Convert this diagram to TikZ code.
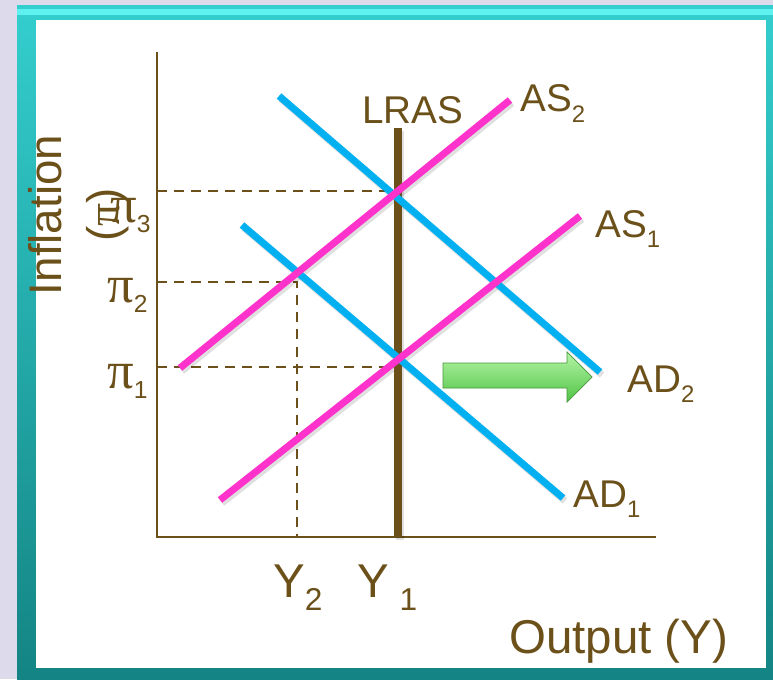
\documentclass[tikz,border=0pt]{standalone}
\usepackage{fontspec}
\setmainfont{Liberation Sans}
\newfontfamily\pifont{Liberation Serif}
\usepackage{tikz}
\usetikzlibrary{arrows.meta, positioning, calc}
\definecolor{econbrown}{RGB}{107, 80, 26}
\definecolor{econpink}{RGB}{255, 51, 204}
\definecolor{econblue}{RGB}{0, 176, 240}
\definecolor{econlavender}{RGB}{221, 218, 236}
\definecolor{econtealtop}{RGB}{52, 206, 206}
\definecolor{econtealbot}{RGB}{20, 132, 132}
\definecolor{econcyan}{RGB}{95, 240, 240}
\definecolor{econgreentop}{RGB}{180, 245, 165}
\definecolor{econgreenbot}{RGB}{80, 195, 70}
\definecolor{econgreenline}{RGB}{70, 150, 60}

% subscripts: curve labels, Y labels, pi labels
\newcommand{\csub}[1]{\raisebox{-5.7pt}{\fontsize{13.6}{15}\selectfont #1}}
\newcommand{\ysub}[1]{\raisebox{-7.4pt}{\fontsize{18}{20}\selectfont #1}}
\newcommand{\psub}[1]{\raisebox{-6.2pt}{\fontsize{14}{16}\selectfont #1}}

\begin{document}
\begin{tikzpicture}[
    x=0.02cm, y=-0.02cm,
    axis/.style={econbrown, line width=1.6pt},
    guide/.style={econbrown, line width=1.6pt, dash pattern=on 5.7pt off 4pt},
    curve/.style={line width=4pt, draw=#1},
    shadowline/.style={line width=4pt, draw=black, opacity=0.12},
    lbl/.style={econbrown, inner sep=0pt, anchor=base west, font=\fontsize{22}{26}\selectfont},
    biglbl/.style={econbrown, inner sep=0pt, anchor=base west, font=\fontsize{27}{33}\selectfont},
    pilbl/.style={econbrown, inner sep=0pt, anchor=base west, font=\fontsize{30}{36}\selectfont}
]
\useasboundingbox (0,0) rectangle (773,679);

% slide frame
\fill[econlavender] (0,0) rectangle (773,679);
\shade[top color=econtealtop, bottom color=econtealbot] (17,6) rectangle (773,679);
\fill[econcyan] (17,9) rectangle (773,15);
\fill[white] (36,20) rectangle (766,668);

% axes
\coordinate (O) at (157,537);
\coordinate (ytop) at (157,52);
\coordinate (xend) at (656,537);
\draw[axis] (ytop) -- (O) -- (xend);

% guide points
\coordinate (p3) at (157,191);
\coordinate (e3) at (398,191);
\coordinate (p2) at (157,282);
\coordinate (e2) at (297,282);
\coordinate (y2) at (297,537);
\coordinate (p1) at (157,367);
\coordinate (e1) at (398,367);

% dashed guides
\draw[guide] (p3) -- (e3);
\draw[guide] (p2) -- (e2) -- (y2);
\draw[guide] (p1) -- (e1);

% curve end points
\coordinate (lrasB) at (398,537);
\coordinate (lrasT) at (398,128);
\coordinate (as2A) at (180,368);
\coordinate (as2B) at (510,100);
\coordinate (as1A) at (220,500);
\coordinate (as1B) at (580,216);
\coordinate (ad2A) at (279,96);
\coordinate (ad2B) at (600,372);
\coordinate (ad1A) at (242,225);
\coordinate (ad1B) at (563,498);

% soft shadows
\foreach \a/\b in {lrasB/lrasT, ad2A/ad2B, ad1A/ad1B, as2A/as2B, as1A/as1B} {
    \draw[shadowline] ($(\a)+(2,3)$) -- ($(\b)+(2,3)$);
}

% LRAS, AD and AS curves
\draw[curve=econbrown] (lrasB) -- (lrasT);
\draw[curve=econblue] (ad2A) -- (ad2B);
\draw[curve=econblue] (ad1A) -- (ad1B);
\draw[curve=econpink] (as2A) -- (as2B);
\draw[curve=econpink] (as1A) -- (as1B);

% shift arrow
\shade[top color=econgreentop, bottom color=econgreenbot, draw=econgreenline, line width=0.4pt]
    (443,363) -- (567,363) -- (567,352) -- (592,377) -- (567,402) -- (567,388) -- (443,388) -- cycle;

% curve labels
\node[lbl] (lLRAS) at (362,123) {LRAS};
\node[lbl] (lAS2) at (520,112) {AS\csub{2}};
\node[lbl] (lAS1) at (595,237) {AS\csub{1}};
\node[lbl] (lAD2) at (627,392) {AD\csub{2}};
\node[lbl] (lAD1) at (573,507) {AD\csub{1}};

% axis labels
\node[pilbl] (lpi3) at (110,222) {{\pifont π}\psub{3}};
\node[pilbl] (lpi2) at (107,302) {{\pifont π}\psub{2}};
\node[pilbl] (lpi1) at (107,388) {{\pifont π}\psub{1}};
\node[biglbl] (lY2) at (273,597) {Y\ysub{2}};
\node[biglbl] (lY1) at (357,597) {Y\hspace{6pt}\ysub{1}};
\node[biglbl] (lout) at (509,653) {Output (Y)};
\node[econbrown, inner sep=0pt, rotate=90, align=center, font=\fontsize{26}{33}\selectfont]
    (linf) at (79,215) {Inflation\\({\pifont π})};

\end{tikzpicture}
\end{document}
